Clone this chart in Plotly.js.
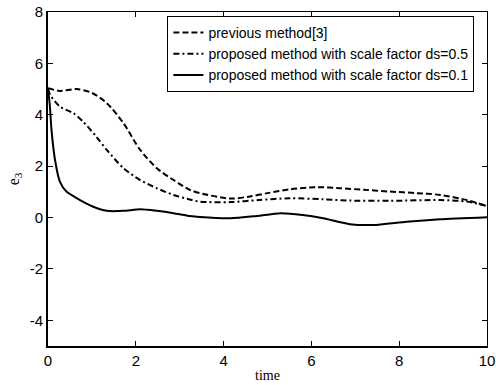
<!DOCTYPE html>
<html>
<head>
<meta charset="utf-8">
<script src="https://cdn.plot.ly/plotly-3.0.1.min.js"></script>
<style>html,body{margin:0;padding:0;background:#fff;}#chart{width:496px;height:385px;}</style>
</head>
<body>
<div id="chart"></div>
<script>
const seriesNames = ["previous method[3]", "proposed method with scale factor ds=0.5", "proposed method with scale factor ds=0.1"];

const tPrev = [0, 0.27, 0.65, 1.0, 1.34, 1.72, 2.1, 2.48, 2.86, 3.23, 3.46, 4.15, 4.6, 5.0, 5.51, 6.12, 6.65, 7.2, 7.79, 8.4, 8.93, 9.54, 10];
const vPrev = [5.03, 4.93, 5.0, 4.85, 4.45, 3.67, 2.63, 1.92, 1.46, 1.08, 0.95, 0.74, 0.82, 0.95, 1.1, 1.18, 1.14, 1.08, 1.01, 0.95, 0.88, 0.68, 0.45];

const tDs05 = [0, 0.05, 0.27, 0.58, 0.8, 1.1, 1.34, 1.72, 2.1, 2.48, 2.86, 3.23, 3.46, 4.15, 4.8, 5.51, 6.27, 6.88, 7.79, 8.93, 9.54, 10];
const vDs05 = [5.0, 4.77, 4.32, 4.06, 3.73, 3.15, 2.63, 1.92, 1.46, 1.14, 0.88, 0.7, 0.62, 0.6, 0.68, 0.75, 0.71, 0.66, 0.65, 0.68, 0.62, 0.45];

const tDs01 = [0, 0.04, 0.08, 0.16, 0.27, 0.42, 0.73, 1.03, 1.34, 1.72, 2.1, 2.48, 2.86, 3.23, 3.46, 4.15, 4.7, 5.3, 5.8, 6.27, 6.88, 7.41, 8.17, 8.93, 10];
const vDs01 = [5.0, 4.4, 3.4, 2.24, 1.4, 1.01, 0.68, 0.42, 0.26, 0.26, 0.32, 0.26, 0.17, 0.06, 0.02, -0.03, 0.05, 0.17, 0.1, -0.03, -0.26, -0.29, -0.16, -0.07, 0.01];

const xTicks = [0, 2, 4, 6, 8, 10];
const yTicks = [-4, -2, 0, 2, 4, 6, 8];

const traces = [
  {x: tPrev, y: vPrev, name: seriesNames[0], mode: 'lines', line: {color: '#000', width: 2, dash: '6px,3px', shape: 'spline', smoothing: 0.8}},
  {x: tDs05, y: vDs05, name: seriesNames[1], mode: 'lines', line: {color: '#000', width: 2, dash: '6px,3px,2px,3px', shape: 'spline', smoothing: 0.8}},
  {x: tDs01, y: vDs01, name: seriesNames[2], mode: 'lines', line: {color: '#000', width: 2, shape: 'spline', smoothing: 0.6}},
  {x: [0, 10], y: [0, 0], xaxis: 'x2', yaxis: 'y2', mode: 'lines', line: {width: 0}, showlegend: false, hoverinfo: 'skip'}
];

const tickFont = {family: 'Liberation Sans, Arial, sans-serif', size: 15, color: '#000'};
const layout = {
  width: 496, height: 385,
  margin: {l: 48, r: 9, t: 12, b: 39},
  paper_bgcolor: '#fff', plot_bgcolor: '#fff',
  showlegend: true,
  legend: {x: 0.272, y: 0.988, xanchor: 'left', yanchor: 'top', bgcolor: '#fff', bordercolor: '#000', borderwidth: 1,
           font: {family: 'Liberation Sans, Arial, sans-serif', size: 14, color: '#000'}, tracegroupgap: 0, itemwidth: 30},
  xaxis: {range: [0, 10], tickvals: xTicks, ticktext: xTicks.map(String), ticks: 'inside', ticklen: 5, tickcolor: '#000',
          showline: true, linecolor: '#000', linewidth: 2, showgrid: false, zeroline: false, tickfont: tickFont,
          title: {text: 'time', font: {family: 'Liberation Serif, Times New Roman, serif', size: 14, color: '#000'}, standoff: 2}},
  yaxis: {range: [-5, 8], tickvals: yTicks, ticktext: yTicks.map(String), ticks: 'inside', ticklen: 5, tickcolor: '#000',
          showline: true, linecolor: '#000', linewidth: 2, showgrid: false, zeroline: false, tickfont: tickFont,
          title: {text: 'e<sub>3</sub>', font: {family: 'Liberation Serif, Times New Roman, serif', size: 16, color: '#000'}, standoff: 6}},
  xaxis2: {range: [0, 10], overlaying: 'x', side: 'top', tickvals: xTicks, ticks: 'inside', ticklen: 5, tickcolor: '#000',
           showticklabels: false, showline: true, linecolor: '#000', linewidth: 1, showgrid: false, zeroline: false},
  yaxis2: {range: [-5, 8], overlaying: 'y', side: 'right', tickvals: yTicks, ticks: 'inside', ticklen: 5, tickcolor: '#000',
           showticklabels: false, showline: true, linecolor: '#000', linewidth: 1, showgrid: false, zeroline: false}
};

Plotly.newPlot('chart', traces, layout, {displayModeBar: false, staticPlot: true});
</script>
</body>
</html>
